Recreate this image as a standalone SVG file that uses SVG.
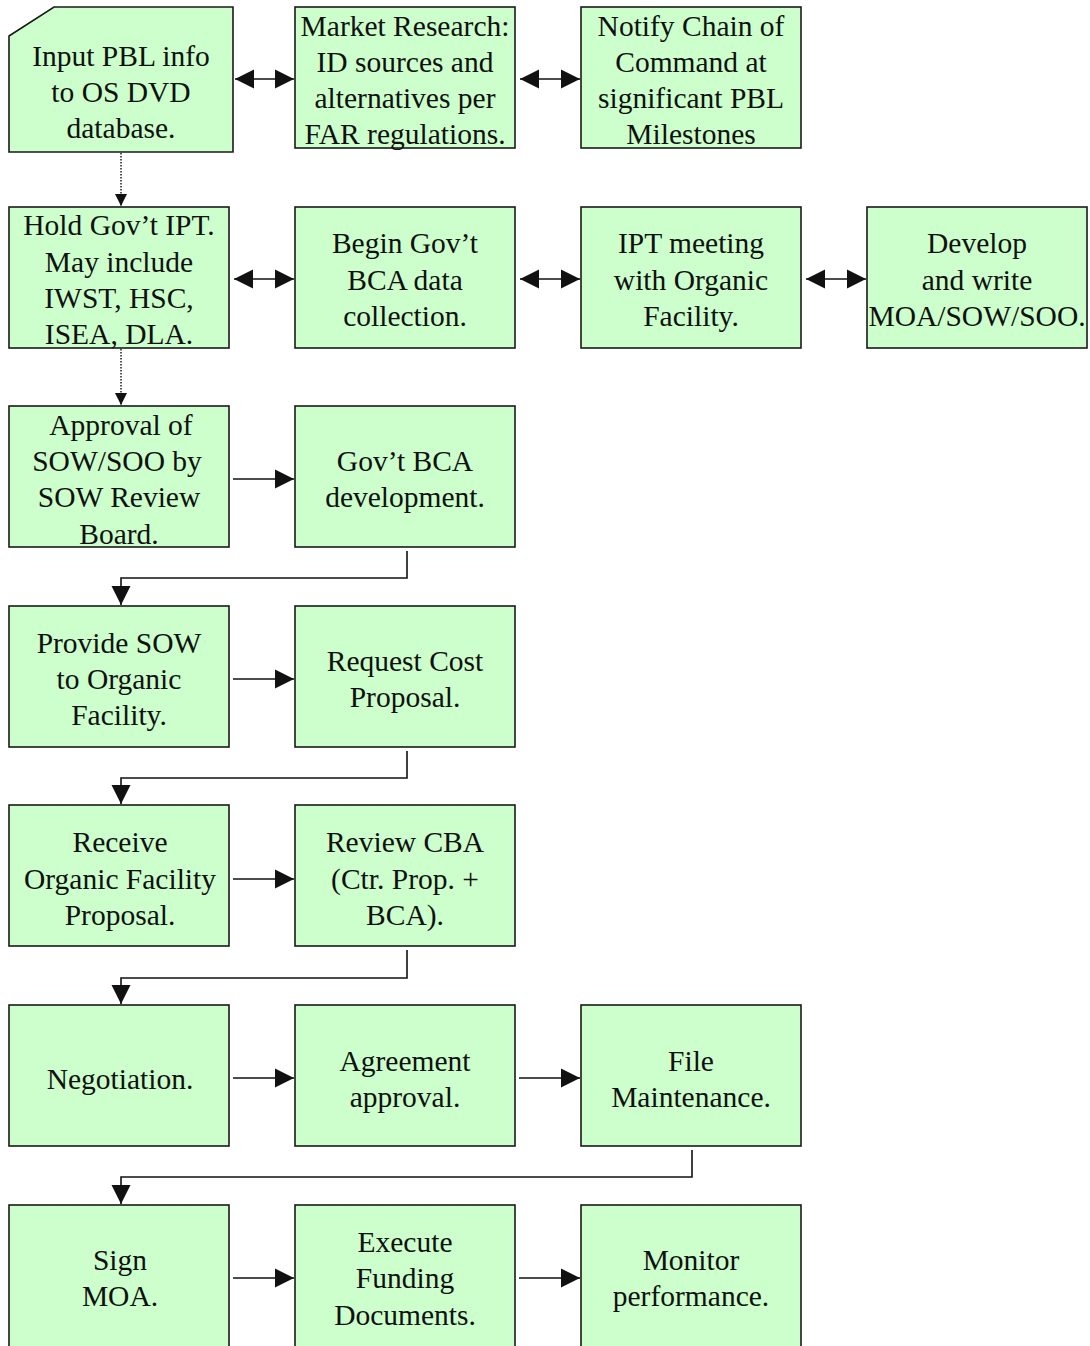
<svg xmlns="http://www.w3.org/2000/svg" width="1090" height="1346" viewBox="0 0 1090 1346">
  <style>
    .box { fill: #ccffcc; stroke: #1a1a1a; stroke-width: 1.6; }
    .lbl { font-family: "Liberation Serif", "Times New Roman", serif; font-size: 29.5px; fill: #111; text-anchor: middle; }
    .wire { fill: none; stroke: #111; stroke-width: 1.6; }
    .dot { fill: none; stroke: #111; stroke-width: 1.4; stroke-dasharray: 1.5 1.5; }
  </style>
  <defs>
    <marker id="head" markerUnits="userSpaceOnUse" markerWidth="22" markerHeight="22" refX="19" refY="10" orient="auto-start-reverse">
      <path d="M0,0.5 L19,10 L0,19.5 Z" fill="#111"/>
    </marker>
    <marker id="small" markerUnits="userSpaceOnUse" markerWidth="14" markerHeight="14" refX="12" refY="6" orient="auto">
      <path d="M0,0 L12,6 L0,12 Z" fill="#111"/>
    </marker>
  </defs>
  <rect width="1090" height="1346" fill="#ffffff"/>

  <!-- connectors -->
  <g id="connectors">
    <line class="wire" x1="235" y1="79" x2="294" y2="79" marker-start="url(#head)" marker-end="url(#head)"/>
    <line class="wire" x1="520" y1="79" x2="580" y2="79" marker-start="url(#head)" marker-end="url(#head)"/>
    <line class="dot" x1="121" y1="153" x2="121" y2="206" marker-end="url(#small)"/>
    <line class="wire" x1="234" y1="279" x2="294" y2="279" marker-start="url(#head)" marker-end="url(#head)"/>
    <line class="wire" x1="520" y1="279" x2="580" y2="279" marker-start="url(#head)" marker-end="url(#head)"/>
    <line class="wire" x1="806" y1="279" x2="866" y2="279" marker-start="url(#head)" marker-end="url(#head)"/>
    <line class="dot" x1="121" y1="349" x2="121" y2="405" marker-end="url(#small)"/>
    <line class="wire" x1="233" y1="479" x2="294" y2="479" marker-end="url(#head)"/>
    <path class="wire" d="M407,551 V578 H121 V605" marker-end="url(#head)"/>
    <line class="wire" x1="233" y1="679" x2="294" y2="679" marker-end="url(#head)"/>
    <path class="wire" d="M407,751 V778 H121 V804" marker-end="url(#head)"/>
    <line class="wire" x1="233" y1="879" x2="294" y2="879" marker-end="url(#head)"/>
    <path class="wire" d="M407,950 V978 H121 V1004" marker-end="url(#head)"/>
    <line class="wire" x1="233" y1="1078" x2="294" y2="1078" marker-end="url(#head)"/>
    <line class="wire" x1="519" y1="1078" x2="580" y2="1078" marker-end="url(#head)"/>
    <path class="wire" d="M692,1150 V1177 H121 V1204" marker-end="url(#head)"/>
    <line class="wire" x1="233" y1="1278" x2="294" y2="1278" marker-end="url(#head)"/>
    <line class="wire" x1="519" y1="1278" x2="580" y2="1278" marker-end="url(#head)"/>
  </g>

  <!-- row 1 -->
  <g id="input-pbl">
    <path class="box" d="M9,36 L54,7 H233 V152 H9 Z"/>
    <text class="lbl" x="121" y="66">Input PBL info</text>
    <text class="lbl" x="121" y="102">to OS DVD</text>
    <text class="lbl" x="121" y="138">database.</text>
  </g>
  <g id="market-research">
    <rect class="box" x="295" y="7" width="220" height="141"/>
    <text class="lbl" x="405" y="36">Market Research:</text>
    <text class="lbl" x="405" y="72">ID sources and</text>
    <text class="lbl" x="405" y="108">alternatives per</text>
    <text class="lbl" x="405" y="144">FAR regulations.</text>
  </g>
  <g id="notify-chain">
    <rect class="box" x="581" y="7" width="220" height="141"/>
    <text class="lbl" x="691" y="36">Notify Chain of</text>
    <text class="lbl" x="691" y="72">Command at</text>
    <text class="lbl" x="691" y="108">significant PBL</text>
    <text class="lbl" x="691" y="144">Milestones</text>
  </g>

  <!-- row 2 -->
  <g id="hold-ipt">
    <rect class="box" x="9" y="207" width="220" height="141"/>
    <text class="lbl" x="119" y="235">Hold Gov’t IPT.</text>
    <text class="lbl" x="119" y="272">May include</text>
    <text class="lbl" x="119" y="308">IWST, HSC,</text>
    <text class="lbl" x="119" y="344">ISEA, DLA.</text>
  </g>
  <g id="bca-data">
    <rect class="box" x="295" y="207" width="220" height="141"/>
    <text class="lbl" x="405" y="253">Begin Gov’t</text>
    <text class="lbl" x="405" y="290">BCA data</text>
    <text class="lbl" x="405" y="326">collection.</text>
  </g>
  <g id="ipt-meeting">
    <rect class="box" x="581" y="207" width="220" height="141"/>
    <text class="lbl" x="691" y="253">IPT meeting</text>
    <text class="lbl" x="691" y="290">with Organic</text>
    <text class="lbl" x="691" y="326">Facility.</text>
  </g>
  <g id="develop-moa">
    <rect class="box" x="867" y="207" width="220" height="141"/>
    <text class="lbl" x="977" y="253">Develop</text>
    <text class="lbl" x="977" y="290">and write</text>
    <text class="lbl" x="977" y="326">MOA/SOW/SOO.</text>
  </g>

  <!-- row 3 -->
  <g id="approval-sow">
    <rect class="box" x="9" y="406" width="220" height="141"/>
    <text class="lbl" x="121" y="435">Approval of</text>
    <text class="lbl" x="117" y="471">SOW/SOO by</text>
    <text class="lbl" x="119" y="507">SOW Review</text>
    <text class="lbl" x="119" y="544">Board.</text>
  </g>
  <g id="bca-development">
    <rect class="box" x="295" y="406" width="220" height="141"/>
    <text class="lbl" x="405" y="471">Gov’t BCA</text>
    <text class="lbl" x="405" y="507">development.</text>
  </g>

  <!-- row 4 -->
  <g id="provide-sow">
    <rect class="box" x="9" y="606" width="220" height="141"/>
    <text class="lbl" x="119" y="653">Provide SOW</text>
    <text class="lbl" x="119" y="689">to Organic</text>
    <text class="lbl" x="119" y="725">Facility.</text>
  </g>
  <g id="request-cost">
    <rect class="box" x="295" y="606" width="220" height="141"/>
    <text class="lbl" x="405" y="671">Request Cost</text>
    <text class="lbl" x="405" y="707">Proposal.</text>
  </g>

  <!-- row 5 -->
  <g id="receive-proposal">
    <rect class="box" x="9" y="805" width="220" height="141"/>
    <text class="lbl" x="120" y="852">Receive</text>
    <text class="lbl" x="120" y="889">Organic Facility</text>
    <text class="lbl" x="120" y="925">Proposal.</text>
  </g>
  <g id="review-cba">
    <rect class="box" x="295" y="805" width="220" height="141"/>
    <text class="lbl" x="405" y="852">Review CBA</text>
    <text class="lbl" x="405" y="889">(Ctr. Prop. +</text>
    <text class="lbl" x="405" y="925">BCA).</text>
  </g>

  <!-- row 6 -->
  <g id="negotiation">
    <rect class="box" x="9" y="1005" width="220" height="141"/>
    <text class="lbl" x="120" y="1089">Negotiation.</text>
  </g>
  <g id="agreement-approval">
    <rect class="box" x="295" y="1005" width="220" height="141"/>
    <text class="lbl" x="405" y="1071">Agreement</text>
    <text class="lbl" x="405" y="1107">approval.</text>
  </g>
  <g id="file-maintenance">
    <rect class="box" x="581" y="1005" width="220" height="141"/>
    <text class="lbl" x="691" y="1071">File</text>
    <text class="lbl" x="691" y="1107">Maintenance.</text>
  </g>

  <!-- row 7 -->
  <g id="sign-moa">
    <rect class="box" x="9" y="1205" width="220" height="150"/>
    <text class="lbl" x="120" y="1270">Sign</text>
    <text class="lbl" x="120" y="1306">MOA.</text>
  </g>
  <g id="execute-funding">
    <rect class="box" x="295" y="1205" width="220" height="150"/>
    <text class="lbl" x="405" y="1252">Execute</text>
    <text class="lbl" x="405" y="1288">Funding</text>
    <text class="lbl" x="405" y="1325">Documents.</text>
  </g>
  <g id="monitor-performance">
    <rect class="box" x="581" y="1205" width="220" height="150"/>
    <text class="lbl" x="691" y="1270">Monitor</text>
    <text class="lbl" x="691" y="1306">performance.</text>
  </g>
</svg>
